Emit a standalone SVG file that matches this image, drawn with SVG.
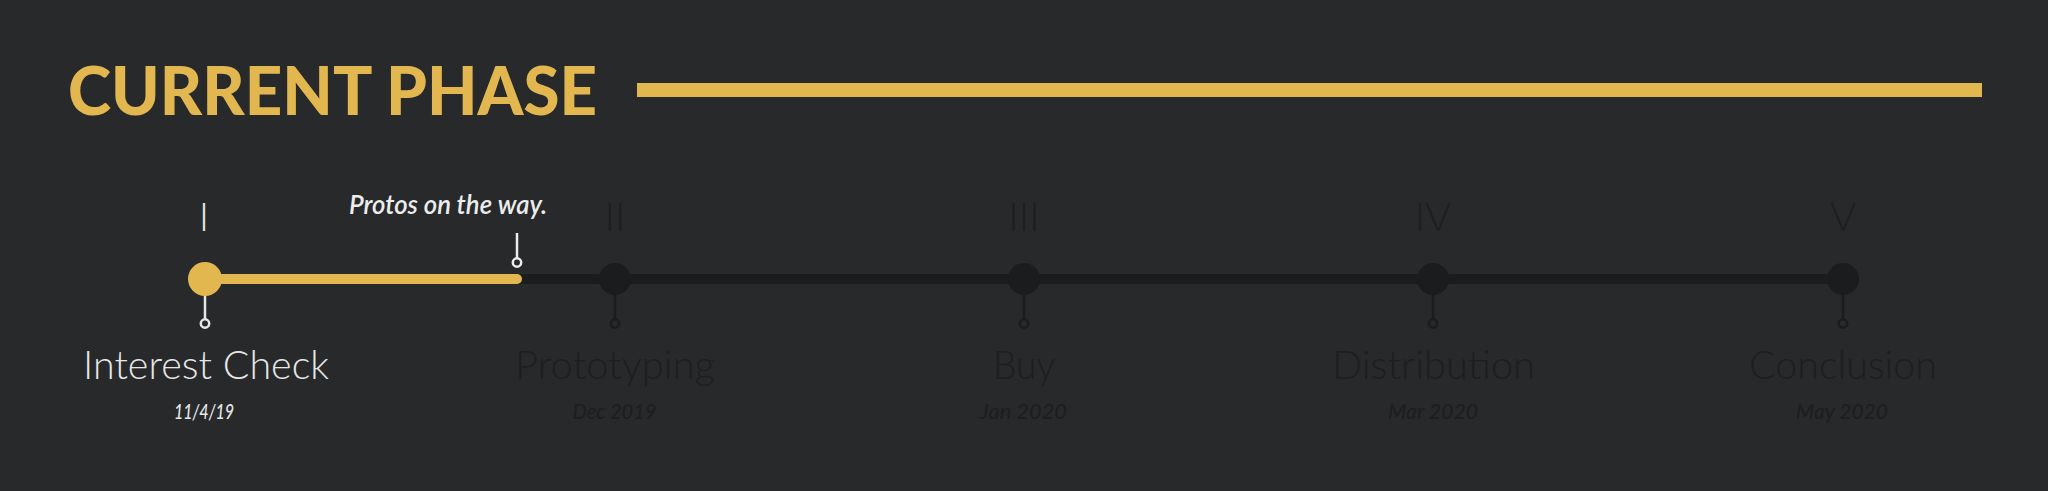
<svg xmlns="http://www.w3.org/2000/svg" width="2048" height="491" viewBox="0 0 2048 491">
<style>
.title{font-family:Lato,"Liberation Sans",sans-serif;font-weight:900;font-size:67px;fill:#e3b74f}
.num{font-family:Lato,"Liberation Sans",sans-serif;font-weight:300;font-size:40px;text-anchor:middle}
.lbl{font-family:Lato,"Liberation Sans",sans-serif;font-weight:300;font-size:40px;text-anchor:middle}
.date{font-family:Lato,"Liberation Sans",sans-serif;font-weight:500;font-style:italic;font-size:21px;text-anchor:middle}
.note{font-family:Lato,"Liberation Sans",sans-serif;font-weight:600;font-style:italic;font-size:27px;fill:#ececec}
.on{fill:#e6e6e6}
.off{fill:#1d1e20}
.stemOn{stroke:#e6e6e6;stroke-width:2.5;fill:#28292b}
.stemOff{stroke:#1b1c1e;stroke-width:2.5;fill:#28292b}
</style>
<rect width="2048" height="491" fill="#28292b"/>
<g id="header">
<text class="title" x="68" y="115" textLength="529" lengthAdjust="spacingAndGlyphs">CURRENT PHASE</text>
<rect x="637" y="83" width="1345" height="14" fill="#e3b74f"/>
</g>
<g id="connectors">
<line x1="205" y1="279" x2="1843" y2="279" stroke="#1b1c1e" stroke-width="10"/>
<line x1="205" y1="279" x2="517" y2="279" stroke="#e3b74f" stroke-width="10" stroke-linecap="round"/>
</g>
<g id="progress-marker">
<line x1="517" y1="233" x2="517" y2="258" stroke="#ececec" stroke-width="2.5"/>
<circle cx="517" cy="262.5" r="4.2" fill="#28292b" stroke="#ececec" stroke-width="2.5"/>
<text class="note" x="349" y="214" textLength="198" lengthAdjust="spacingAndGlyphs">Protos on the way.</text>
</g>
<g id="node-1">
<text class="num on" x="204" y="231">I</text>
<line x1="205" y1="279" x2="205" y2="319" class="stemOn"/>
<circle cx="205" cy="323.5" r="4.2" class="stemOn"/>
<circle cx="205" cy="279" r="17" fill="#e3b74f"/>
<text class="lbl on" x="206" y="379" textLength="246" lengthAdjust="spacingAndGlyphs">Interest Check</text>
<text class="date on" x="204" y="419" textLength="60" lengthAdjust="spacingAndGlyphs">11/4/19</text>
</g>
<g id="node-2">
<text class="num off" x="615" y="231">II</text>
<line x1="615" y1="279" x2="615" y2="319" class="stemOff"/>
<circle cx="615" cy="323.5" r="4.2" class="stemOff"/>
<circle cx="615" cy="279" r="16" fill="#1b1c1e"/>
<text class="lbl off" x="615" y="379" textLength="200" lengthAdjust="spacingAndGlyphs">Prototyping</text>
<text class="date off" x="614.5" y="419" textLength="84" lengthAdjust="spacingAndGlyphs">Dec 2019</text>
</g>
<g id="node-3">
<text class="num off" x="1024" y="231">III</text>
<line x1="1024" y1="279" x2="1024" y2="319" class="stemOff"/>
<circle cx="1024" cy="323.5" r="4.2" class="stemOff"/>
<circle cx="1024" cy="279" r="16" fill="#1b1c1e"/>
<text class="lbl off" x="1024" y="379" textLength="62" lengthAdjust="spacingAndGlyphs">Buy</text>
<text class="date off" x="1023.5" y="419" textLength="87" lengthAdjust="spacingAndGlyphs">Jan 2020</text>
</g>
<g id="node-4">
<text class="num off" x="1433" y="231">IV</text>
<line x1="1433" y1="279" x2="1433" y2="319" class="stemOff"/>
<circle cx="1433" cy="323.5" r="4.2" class="stemOff"/>
<circle cx="1433" cy="279" r="16" fill="#1b1c1e"/>
<text class="lbl off" x="1433.5" y="379" textLength="203" lengthAdjust="spacingAndGlyphs">Distribution</text>
<text class="date off" x="1433" y="419" textLength="90" lengthAdjust="spacingAndGlyphs">Mar 2020</text>
</g>
<g id="node-5">
<text class="num off" x="1843" y="231">V</text>
<line x1="1843" y1="279" x2="1843" y2="319" class="stemOff"/>
<circle cx="1843" cy="323.5" r="4.2" class="stemOff"/>
<circle cx="1843" cy="279" r="16" fill="#1b1c1e"/>
<text class="lbl off" x="1843" y="379" textLength="188" lengthAdjust="spacingAndGlyphs">Conclusion</text>
<text class="date off" x="1842" y="419" textLength="92" lengthAdjust="spacingAndGlyphs">May 2020</text>
</g>
</svg>
